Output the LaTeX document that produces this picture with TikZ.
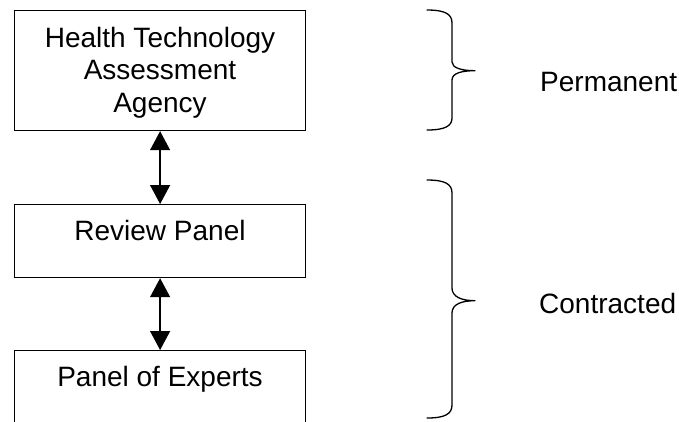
\documentclass[tikz,border=0pt]{standalone}
\usepackage{fontspec}
\setmainfont{Liberation Sans}
\usetikzlibrary{arrows.meta}
\begin{document}
\begin{tikzpicture}[x=1bp,y=-1bp,
  every node/.style={font=\fontsize{28bp}{32.5bp}\selectfont, text=black},
  boxnode/.style={draw=black, line width=1.2bp, rectangle, inner sep=0pt, anchor=north west},
  txt/.style={inner sep=0pt, anchor=base, align=center},
  link/.style={line width=1.3bp, {Triangle[length=19bp,width=20bp]}-{Triangle[length=19bp,width=20bp]}},
  bracepath/.style={line width=1.3bp, line join=round, line cap=round}]
\useasboundingbox (0,0) rectangle (679,421);
\clip (0,0) rectangle (679,421);
% boxes
\node[boxnode, minimum width=291bp, minimum height=120bp] (hta) at (14,10) {};
\node[boxnode, minimum width=291bp, minimum height=73bp] (rp) at (14,204) {};
\node[boxnode, minimum width=291bp, minimum height=100bp] (pe) at (14,350) {};
% texts
\node[txt] (htat) at (160,112) {Health Technology\\Assessment\\Agency};
\node[txt] (rpt) at (160,240.7) {Review Panel};
\node[txt] (pet) at (160,386) {Panel of Experts};
% arrows
\draw[link] (hta.south) -- (rp.north);
\draw[link] (rp.south) -- (pe.north);
% braces
\draw[bracepath] (427,10) .. controls (445,10) and (452,14) .. (452,23)
  -- (452,62) .. controls (452,68) and (462,70.7) .. (475,70.7)
  .. controls (462,70.7) and (452,73) .. (452,80)
  -- (452,118) .. controls (452,126) and (445,130) .. (427,130);
\draw[bracepath] (427,180) .. controls (445,180) and (452,184) .. (452,193)
  -- (452,288) .. controls (452,297) and (462,300.7) .. (475,300.7)
  .. controls (462,300.7) and (452,304) .. (452,313)
  -- (452,405) .. controls (452,414) and (445,418) .. (427,418);
% labels
\node[inner sep=0pt, anchor=base west] (perm) at (540,91.5) {Permanent};
\node[inner sep=0pt, anchor=base west] (contr) at (539,313.3) {Contracted};
\end{tikzpicture}
\end{document}
